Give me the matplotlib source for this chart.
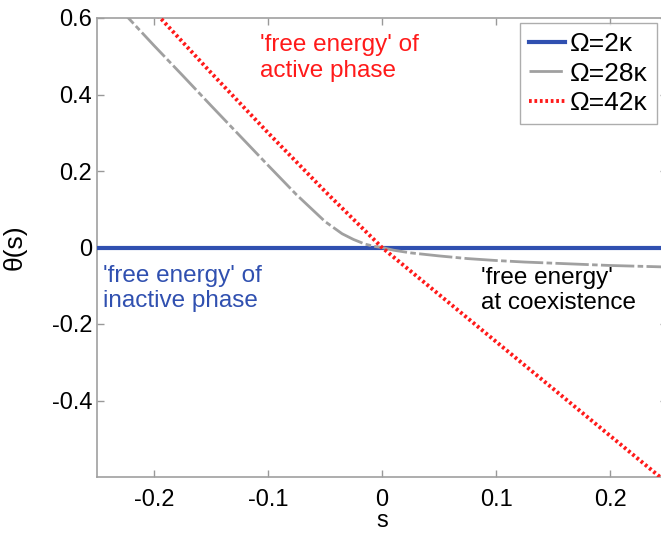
import matplotlib
matplotlib.use("Agg")
import matplotlib.pyplot as plt

plt.rcParams['font.family'] = ['Liberation Sans', 'DejaVu Sans']
plt.rcParams['axes.unicode_minus'] = False

# Omega = 2 kappa: inactive phase, theta = 0
s_inactive = [-0.25, 0.25]
theta_inactive = [0.0, 0.0]

# Omega = 28 kappa: coexistence
s_coex = [-0.25, -0.2225, -0.2, -0.175, -0.15, -0.125, -0.1, -0.075, -0.05, -0.035,
          -0.025, -0.015, -0.007, 0.0, 0.01, 0.025, 0.05, 0.075, 0.1, 0.125, 0.15,
          0.175, 0.2, 0.225, 0.25]
theta_coex = [0.69, 0.60, 0.528, 0.45, 0.371, 0.293, 0.215, 0.138, 0.068, 0.036,
              0.021, 0.009, 0.003, 0.0, -0.007, -0.014, -0.022, -0.029, -0.034, -0.038,
              -0.041, -0.044, -0.047, -0.049, -0.051]

# Omega = 42 kappa: active phase
s_active = [-0.25, -0.2, -0.15, -0.1, -0.05, 0.0, 0.05, 0.1, 0.15, 0.2, 0.25]
theta_active = [0.78, 0.618, 0.457, 0.300, 0.147, 0.0, -0.123, -0.246, -0.369, -0.492, -0.615]

labels = ['Ω=2κ', 'Ω=28κ', 'Ω=42κ']
xticks = [-0.2, -0.1, 0, 0.1, 0.2]
xticklabels = ['-0.2', '-0.1', '0', '0.1', '0.2']
yticks = [-0.4, -0.2, 0, 0.2, 0.4, 0.6]
yticklabels = ['-0.4', '-0.2', '0', '0.2', '0.4', '0.6']

fig = plt.figure(figsize=(6.61, 5.38), dpi=100)
ax = fig.add_axes([97/661, 61/538, 570/661, 459/538])

ax.plot(s_inactive, theta_inactive, color='#3050b0', lw=3, label=labels[0], zorder=3)
ax.plot(s_coex, theta_coex, color='#a0a0a0', lw=2.0, linestyle=(0, (12, 1.2, 2, 1.2)),
        label=labels[1], zorder=4)
ax.plot(s_active, theta_active, color='#ff1a1a', lw=2.8, linestyle=(0, (0.7, 0.7)),
        label=labels[2], zorder=5)

ax.set_xlim(-0.25, 0.25)
ax.set_ylim(-0.6, 0.6)
ax.set_xticks(xticks)
ax.set_xticklabels(xticklabels)
ax.set_yticks(yticks)
ax.set_yticklabels(yticklabels)
ax.tick_params(direction='in', length=5, width=1, color='#999999', labelsize=17,
               top=True, right=True)
ax.tick_params(axis='x', pad=9)
ax.tick_params(axis='y', pad=3.5)
for sp in ax.spines.values():
    sp.set_color('#a0a0a0')
    sp.set_linewidth(1.2)

ax.set_xlabel('s', fontsize=17)
ax.set_ylabel('θ(s)', fontsize=19)
ax.xaxis.set_label_coords(0.5, -0.072)
ax.yaxis.set_label_coords(-0.123, 0.5)

ax.text(-0.107, 0.557, "'free energy' of\nactive phase", color='#ff1a1a', fontsize=17.5,
        ha='left', va='top', linespacing=1.2)
ax.text(-0.245, -0.046, "'free energy' of\ninactive phase", color='#3050b0', fontsize=17.5,
        ha='left', va='top', linespacing=1.2)
ax.text(0.087, -0.051, "'free energy'\nat coexistence", color='black', fontsize=17.5,
        ha='left', va='top', linespacing=1.2)

leg = ax.legend(loc='upper left', bbox_to_anchor=(520/661, 1 - 23/538),
                bbox_transform=fig.transFigure, fontsize=19, frameon=True,
                fancybox=False, borderaxespad=0, handlelength=1.35, handletextpad=0.2,
                labelspacing=0.2, borderpad=0.35)
leg.get_frame().set_edgecolor('#999999')
leg.get_frame().set_linewidth(1.0)

fig.savefig('out.png', dpi=100)
